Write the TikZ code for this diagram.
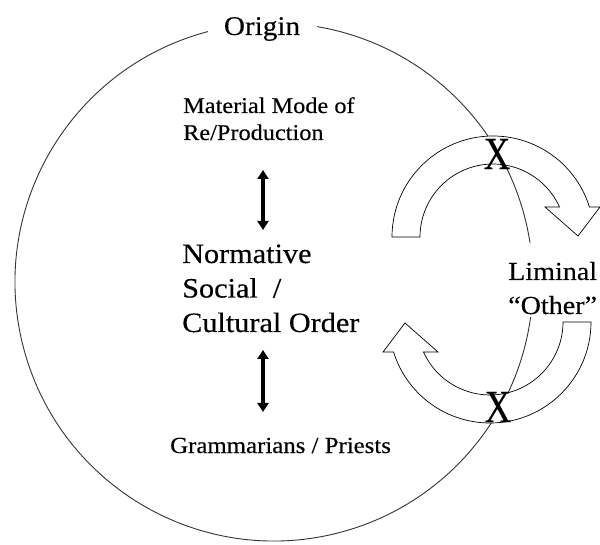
\documentclass[tikz,border=0pt]{standalone}
\usepackage{fontspec}
\setmainfont[FakeStretch=1.08,FakeBold=0.35]{Liberation Serif}
\usepackage{graphicx}
\usetikzlibrary{arrows.meta}
\begin{document}
\begin{tikzpicture}[x=1pt,y=1pt,
  ring/.style={draw=black!80, line width=0.9pt},
  bentarrow/.style={draw=black, line width=0.7pt, fill=white, line join=miter},
  vdouble/.style={line width=4.5pt, {Triangle[width=11pt,length=9pt]}-{Triangle[width=11pt,length=9pt]}},
  lbl/.style={inner sep=0pt, align=left, anchor=base west},
  cross/.style={inner sep=0pt}]
\useasboundingbox (0,0) rectangle (600,544);
\coordinate (C) at (274,262);
\draw[ring] (C) ++(8.7:259) arc[start angle=8.7, end angle=80.4, radius=259];
\draw[ring] (C) ++(104.8:259) arc[start angle=104.8, end angle=352.2, radius=259];
% curved block arrows
\draw[bentarrow] (392,307) arc[start angle=180,end angle=17.3,radius=101] -- (600,337) -- (578,308) -- (545,337) -- (559.5,337) arc[start angle=24.3,end angle=180,radius=73] -- cycle;
\begin{scope}[rotate around={180:(491.5,264.5)}]
\draw[bentarrow] (392,307) arc[start angle=180,end angle=17.3,radius=101] -- (600,337) -- (578,308) -- (545,337) -- (559.5,337) arc[start angle=24.3,end angle=180,radius=73] -- cycle;
\end{scope}
\node[cross] (x1) at (497,390) {\scalebox{0.74}[1]{\fontsize{46}{46}\selectfont X}};
\node[cross] (x2) at (498,137) {\scalebox{0.74}[1]{\fontsize{46}{46}\selectfont X}};
% texts
\node[inner sep=0pt, anchor=base, font=\fontsize{27}{27}\selectfont] (orig) at (262,509) {Origin};
\node[lbl, font=\fontsize{22.5}{27}\selectfont] (mat) at (183,404) {Material Mode of\\Re/Production};
\node[lbl, font=\fontsize{28}{34.5}\selectfont] (norm) at (182,212) {Normative\\Social\ \ /\\Cultural Order};
\node[lbl, font=\fontsize{23}{27}\selectfont] (gram) at (170,91) {Grammarians / Priests};
\node[lbl, font=\fontsize{26}{34}\selectfont] (lim) at (508,230) {Liminal\\“Other”};
% vertical double arrows
\coordinate (u1) at (263,374);
\coordinate (u2) at (263,314);
\coordinate (d1) at (263,194);
\coordinate (d2) at (263,132);
\draw[vdouble] (u1) -- (u2);
\draw[vdouble] (d1) -- (d2);
\end{tikzpicture}
\end{document}
